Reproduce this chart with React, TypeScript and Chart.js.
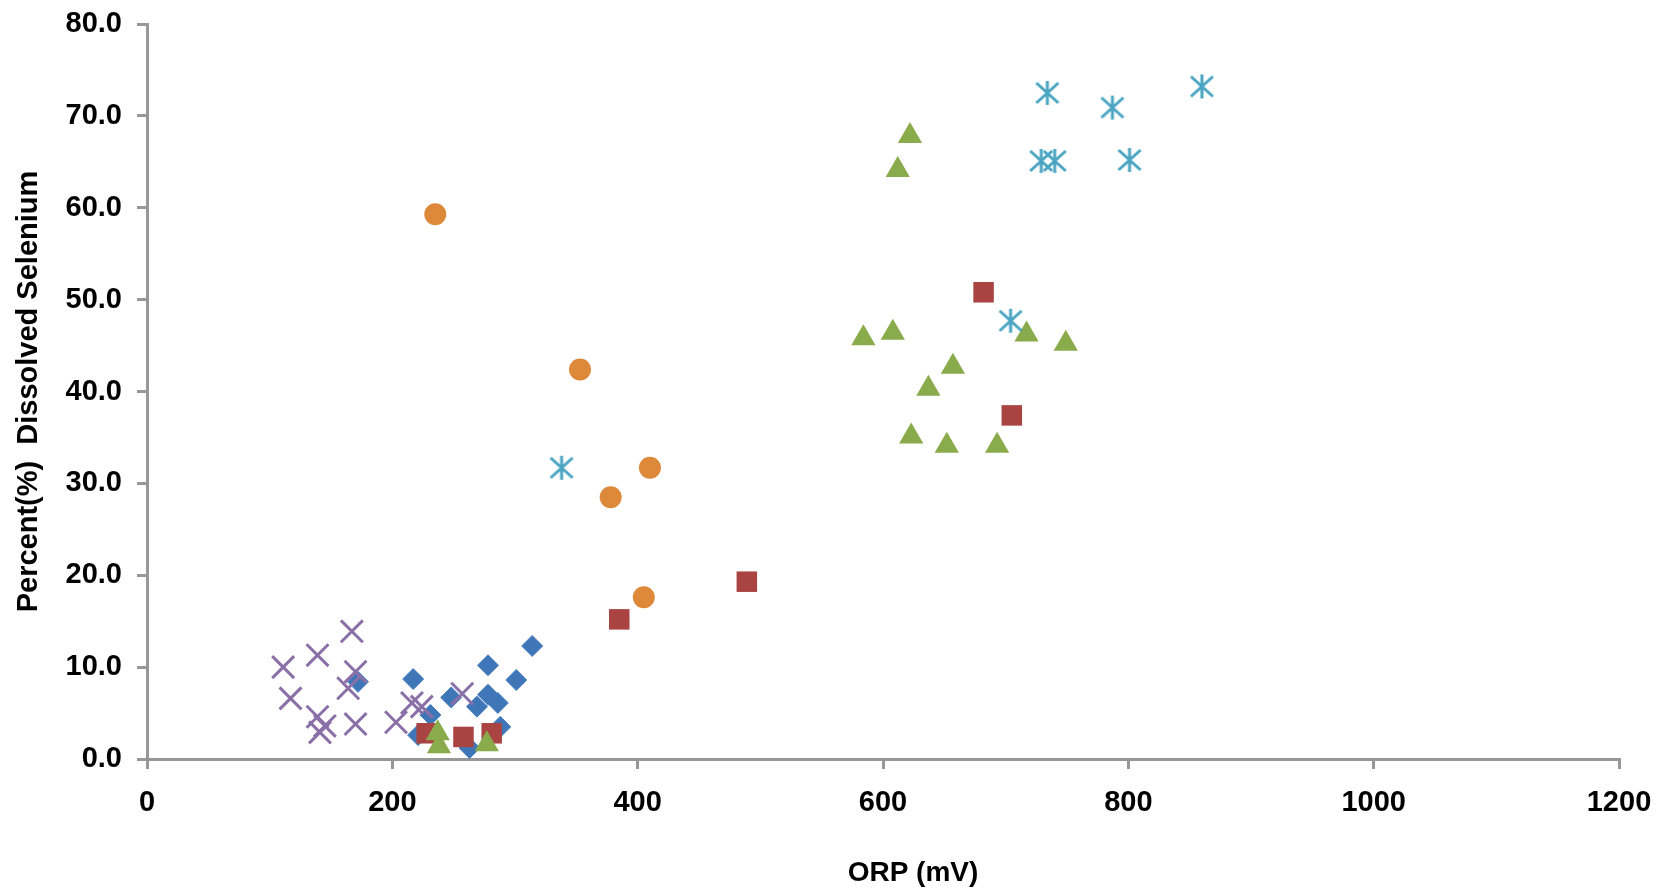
import React, { useEffect, useRef } from "react";
import { Chart, registerables } from "chart.js";

Chart.register(...registerables);

// Axis settings
const xMin = 0;
const xMax = 1200;
const xStep = 200;
const yMin = 0;
const yMax = 80;
const yStep = 10;

const xTitle = "ORP (mV)";
const yTitle = "Percent(%)  Dissolved Selenium";

// Series 1 (blue diamonds)
const blueX = [172, 217, 278, 314, 301, 248, 278, 286, 269, 231, 288, 221, 263];
const blueY = [8.4, 8.7, 10.2, 12.3, 8.6, 6.7, 7.0, 6.1, 5.7, 4.8, 3.5, 2.6, 1.2];

// Series 2 (red squares)
const redX = [228, 258, 281, 385, 489, 682, 705];
const redY = [2.8, 2.4, 2.8, 15.2, 19.3, 50.8, 37.4];

// Series 3 (green triangles)
const greenX = [237, 238, 277, 622, 612, 584, 608, 717, 749, 657, 637, 623, 652, 693];
const greenY = [2.8, 1.4, 1.6, 67.8, 64.1, 45.8, 46.4, 46.2, 45.2, 42.7, 40.3, 35.1, 34.1, 34.1];

// Series 4 (purple crosses)
const purpleX = [111, 139, 167, 170, 164, 117, 139, 141, 145, 170, 203, 216, 224, 257];
const purpleY = [10.0, 11.3, 13.9, 9.5, 7.7, 6.6, 4.6, 2.9, 3.6, 3.8, 4.0, 6.1, 5.7, 7.1];

// Series 5 (cyan asterisks)
const cyanX = [338, 734, 787, 860, 729, 740, 801, 704];
const cyanY = [31.7, 72.5, 70.9, 73.2, 65.1, 65.1, 65.2, 47.7];

// Series 6 (orange circles)
const orangeX = [235, 353, 410, 378, 405];
const orangeY = [59.3, 42.4, 31.7, 28.5, 17.6];

const toPoints = (xs: number[], ys: number[]) => xs.map((x, i) => ({ x, y: ys[i] }));

function makeAsterisk(color: string): HTMLCanvasElement {
  const c = document.createElement("canvas");
  c.width = 26;
  c.height = 26;
  const g = c.getContext("2d")!;
  g.strokeStyle = color;
  g.lineWidth = 3;
  g.lineCap = "butt";
  g.beginPath();
  g.moveTo(2, 3);
  g.lineTo(24, 23);
  g.moveTo(24, 3);
  g.lineTo(2, 23);
  g.moveTo(13, 1);
  g.lineTo(13, 25);
  g.stroke();
  return c;
}

const FONT_FAMILY = '"Liberation Sans", Arial, sans-serif';

export default function App() {
  const canvasRef = useRef<HTMLCanvasElement | null>(null);

  useEffect(() => {
    document.body.style.margin = "0";
    const canvas = canvasRef.current;
    if (!canvas) return;

    const titlePlugin = {
      id: "axisTitlesCustom",
      afterDraw(chart: any) {
        const { ctx, chartArea } = chart;
        ctx.save();
        ctx.fillStyle = "#000";
        ctx.textAlign = "center";
        ctx.textBaseline = "middle";
        ctx.font = `bold 28px ${FONT_FAMILY}`;
        ctx.fillText(xTitle, (chartArea.left + chartArea.right) / 2 + 30, 873);
        ctx.font = `bold 29px ${FONT_FAMILY}`;
        ctx.translate(29, (chartArea.top + chartArea.bottom) / 2);
        ctx.rotate(-Math.PI / 2);
        ctx.fillText(yTitle, 0, 0);
        ctx.restore();
      },
    };

    const axisColor = "#979797";

    const chart = new Chart(canvas, {
      type: "scatter",
      data: {
        datasets: [
          {
            label: "Series1",
            data: toPoints(blueX, blueY),
            pointStyle: "rectRot",
            pointRadius: 10.5,
            pointHoverRadius: 10.5,
            backgroundColor: "#3f76b8",
            borderColor: "#4a80c0",
            borderWidth: 1,
            order: 6,
          },
          {
            label: "Series2",
            data: toPoints(redX, redY),
            pointStyle: "rect",
            pointRadius: 14.5,
            pointHoverRadius: 14.5,
            backgroundColor: "#a94442",
            borderColor: "#a94442",
            borderWidth: 0,
            order: 5,
          },
          {
            label: "Series3",
            data: toPoints(greenX, greenY),
            pointStyle: "triangle",
            pointRadius: 14,
            pointHoverRadius: 14,
            backgroundColor: "#8aab4b",
            borderColor: "#8aab4b",
            borderWidth: 0,
            order: 4,
          },
          {
            label: "Series4",
            data: toPoints(purpleX, purpleY),
            pointStyle: "crossRot",
            pointRadius: 15.5,
            pointHoverRadius: 15.5,
            backgroundColor: "#8b70a8",
            borderColor: "#8b70a8",
            borderWidth: 3,
            order: 3,
          },
          {
            label: "Series5",
            data: toPoints(cyanX, cyanY),
            pointStyle: makeAsterisk("#4aa5c2") as any,
            pointRadius: 13,
            pointHoverRadius: 13,
            backgroundColor: "#4aa5c2",
            borderColor: "#4aa5c2",
            order: 2,
          },
          {
            label: "Series6",
            data: toPoints(orangeX, orangeY),
            pointStyle: "circle",
            pointRadius: 11,
            pointHoverRadius: 11,
            backgroundColor: "#de883a",
            borderColor: "#de883a",
            borderWidth: 0,
            order: 1,
          },
        ],
      },
      options: {
        animation: false,
        responsive: true,
        maintainAspectRatio: false,
        layout: { padding: { top: 24, right: 50, left: 0, bottom: 0 } },
        plugins: {
          legend: { display: false },
          tooltip: { enabled: false },
        },
        scales: {
          x: {
            type: "linear",
            min: xMin,
            max: xMax,
            afterFit: (scale: any) => {
              scale.height = 133;
              scale.paddingLeft = 0;
              scale.paddingRight = 0;
            },
            ticks: {
              stepSize: xStep,
              color: "#000",
              font: { family: FONT_FAMILY, size: 29, weight: "bold" },
              padding: 17,
              maxRotation: 0,
              callback: (v: any) => String(v),
            },
            grid: {
              display: true,
              drawOnChartArea: false,
              drawTicks: true,
              tickLength: 10,
              color: axisColor,
              lineWidth: 3,
            },
            border: { display: true, color: axisColor, width: 3 },
          },
          y: {
            type: "linear",
            min: yMin,
            max: yMax,
            afterFit: (scale: any) => {
              scale.width = 147;
              scale.paddingTop = 0;
              scale.paddingBottom = 0;
            },
            ticks: {
              stepSize: yStep,
              color: "#000",
              font: { family: FONT_FAMILY, size: 29, weight: "bold" },
              padding: 15,
              callback: (v: any) => Number(v).toFixed(1),
            },
            grid: {
              display: true,
              drawOnChartArea: false,
              drawTicks: true,
              tickLength: 10,
              color: axisColor,
              lineWidth: 3,
            },
            border: { display: true, color: axisColor, width: 3 },
          },
        },
      },
      plugins: [titlePlugin],
    });

    return () => {
      chart.destroy();
    };
  }, []);

  return (
    <div style={{ width: 1669, height: 892, position: "relative", background: "#fff" }}>
      <canvas ref={canvasRef} />
    </div>
  );
}
